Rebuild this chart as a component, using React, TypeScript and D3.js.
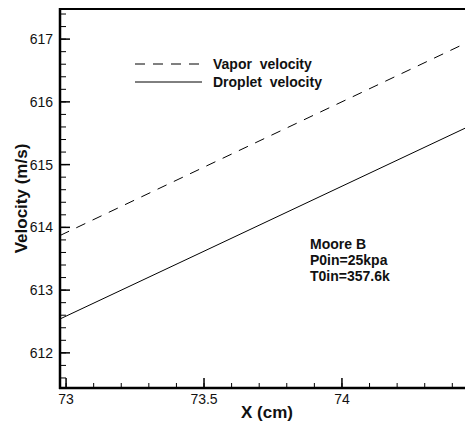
import React from "react";
import * as d3 from "d3";

const xPositions = [72.978, 73.5, 74.446];
const vaporVelocity = [613.87, 614.96, 616.93];
const dropletVelocity = [612.54, 613.62, 615.58];
const xTickValues = [73, 73.5, 74];
const yTickValues = [612, 613, 614, 615, 616, 617];
const legendLabels = ["Vapor  velocity", "Droplet  velocity"];
const annotationLines = ["Moore B", "P0in=25kpa", "T0in=357.6k"];

const W = 465;
const H = 423;
const L = 60, R = 465, T = 9, B = 388;

export default function App() {
  const x = d3.scaleLinear().domain([72.978, 74.446]).range([L, R]);
  const y = d3.scaleLinear().domain([611.44, 617.48]).range([B, T]);
  const line = d3
    .line<number>()
    .x((_, i) => x(xPositions[i]))
    .y((d) => y(d));

  const xMinor = d3.range(73, 74.45, 0.1).map((v) => +v.toFixed(2));
  const yMinor = d3.range(611.6, 617.45, 0.2).map((v) => +v.toFixed(2));
  const font = "'Liberation Sans', Arial, sans-serif";

  return (
    <svg
      width={W}
      height={H}
      style={{ position: "absolute", left: 0, top: 0, background: "#fff" }}
      fontFamily={font}
    >
      <defs>
        <clipPath id="plot">
          <rect x={L} y={T} width={R - L} height={B - T} />
        </clipPath>
      </defs>
      <rect width={W} height={H} fill="#fff" />
      <g clipPath="url(#plot)">
        <path d={line(vaporVelocity) || ""} fill="none" stroke="#000" strokeWidth={1} strokeDasharray="10 8" />
        <path d={line(dropletVelocity) || ""} fill="none" stroke="#000" strokeWidth={1} />
      </g>
      {yMinor.map((v) => (
        <line key={"ym" + v} x1={L} x2={L + 6} y1={y(v)} y2={y(v)} stroke="#000" strokeWidth={1} />
      ))}
      {xMinor.map((v) => (
        <line key={"xm" + v} x1={x(v)} x2={x(v)} y1={B} y2={B - 5} stroke="#000" strokeWidth={1} />
      ))}
      {yTickValues.map((v) => (
        <g key={"y" + v}>
          <line x1={L} x2={L + 10} y1={y(v)} y2={y(v)} stroke="#000" strokeWidth={1.5} />
          <text x={L - 7} y={y(v)} dy="0.36em" textAnchor="end" fontSize={14} fill="#111">
            {v}
          </text>
        </g>
      ))}
      {xTickValues.map((v) => (
        <g key={"x" + v}>
          <line x1={x(v)} x2={x(v)} y1={B} y2={B - 10} stroke="#000" strokeWidth={1.5} />
          <text x={x(v)} y={B + 16} textAnchor="middle" fontSize={14} fill="#111">
            {v}
          </text>
        </g>
      ))}
      <line x1={L} x2={R} y1={T} y2={T} stroke="#000" strokeWidth={2} />
      <line x1={L} x2={L} y1={T - 1} y2={B + 1} stroke="#000" strokeWidth={2.5} />
      <line x1={L - 1} x2={R} y1={B} y2={B} stroke="#000" strokeWidth={2.5} />
      <line x1={135} x2={202} y1={64} y2={64} stroke="#000" strokeWidth={1} strokeDasharray="10 8" />
      <line x1={135} x2={202} y1={82} y2={82} stroke="#000" strokeWidth={1} />
      {legendLabels.map((t, i) => (
        <text key={t} x={213} y={69 + i * 18} fontSize={14} fontWeight="bold" fill="#111" style={{ whiteSpace: "pre" }}>
          {t}
        </text>
      ))}
      {annotationLines.map((t, i) => (
        <text key={t} x={310} y={249 + i * 16} fontSize={14} fontWeight="bold" fill="#111">
          {t}
        </text>
      ))}
      <text
        transform={`translate(27, ${(T + B) / 2 + 0}) rotate(-90)`}
        textAnchor="middle"
        fontSize={17}
        fontWeight="bold"
        fill="#111"
      >
        Velocity (m/s)
      </text>
      <text x={267} y={418} textAnchor="middle" fontSize={17} fontWeight="bold" fill="#111">
        X (cm)
      </text>
    </svg>
  );
}
